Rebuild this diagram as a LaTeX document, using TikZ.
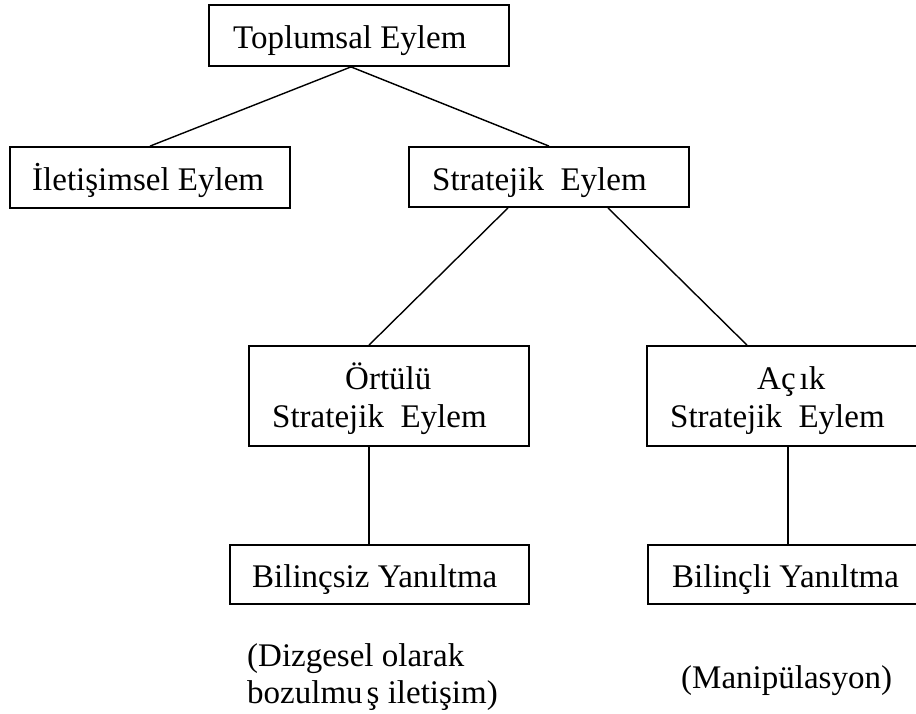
\documentclass[tikz,border=0pt]{standalone}
\usepackage{fontspec}
\setmainfont{Liberation Serif}
\begin{document}
\begin{tikzpicture}[x=1pt,y=-1pt,
  box/.style={draw=black, line width=1.8pt, rectangle, inner sep=0pt},
  txt/.style={inner sep=0pt, font=\fontsize{33}{38}\selectfont, anchor=base west},
  link/.style={draw=black, line width=1.4pt}]
\useasboundingbox (0,0) rectangle (916,713);
% boxes
\node[box, minimum width=300pt, minimum height=61pt] (top) at (359,35.5) {};
\node[box, minimum width=280pt, minimum height=61pt] (ilet) at (150,177.5) {};
\node[box, minimum width=280pt, minimum height=60pt] (strat) at (549,177) {};
\node[box, minimum width=280pt, minimum height=100pt] (ortulu) at (389,396) {};
\node[box, minimum width=280pt, minimum height=100pt] (acik) at (787,396) {};
\node[box, minimum width=299pt, minimum height=59pt] (bilincsiz) at (379.5,574.5) {};
\node[box, minimum width=300pt, minimum height=59pt] (bilincli) at (798,574.5) {};
% texts
\node[txt] (ttop) at (233,48) {Toplumsal Eylem};
\node[txt] (tilet) at (32,190) {İletişimsel Eylem};
\node[txt] (tstrat) at (432,190) {Stratejik~~Eylem};
\node[txt] (tort1) at (345,389) {Örtülü};
\node[txt] (tort2) at (272,427) {Stratejik~~Eylem};
\node[txt] (tacik1) at (757,389) {Aç\hspace{4pt}ık};
\node[txt] (tacik2) at (670,427) {Stratejik~~Eylem};
\node[txt] (tbs) at (252,587) {Bilinçsiz Yanıltma};
\node[txt] (tbl) at (672,587) {Bilinçli Yanıltma};
\node[txt] (tdiz1) at (247,666) {(Dizgesel olarak};
\node[txt] (tdiz2) at (247,703) {bozulmu\hspace{4pt}ş iletişim)};
\node[txt] (tman) at (681,688) {(Manipülasyon)};
% connectors
\draw[link] ([xshift=-8pt]top.south) -- (ilet.north);
\draw[link] ([xshift=-8pt]top.south) -- (strat.north);
\draw[link] ([xshift=-41pt]strat.south) -- ([xshift=-20pt]ortulu.north);
\draw[link] ([xshift=59pt]strat.south) -- ([xshift=-40pt]acik.north);
\draw[link] ([xshift=-20pt]ortulu.south) -- ([xshift=-10.5pt]bilincsiz.north);
\draw[link] ([xshift=1pt]acik.south) -- ([xshift=-10pt]bilincli.north);
\end{tikzpicture}
\end{document}
